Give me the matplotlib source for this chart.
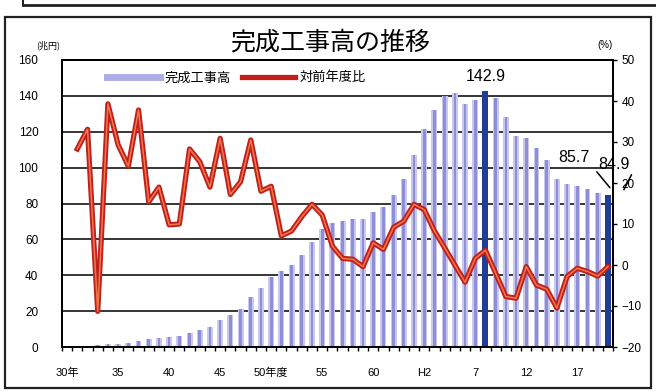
import numpy as np
import matplotlib
matplotlib.use("Agg")
import matplotlib.pyplot as plt
from matplotlib.lines import Line2D
from matplotlib.transforms import offset_copy

plt.rcParams['font.family'] = ['Liberation Sans', 'Noto Sans CJK JP', 'DejaVu Sans']

# ---- data (S30 .. H20, fiscal years) ----
tick_labels = ['30年', '35', '40', '45', '50年度', '55', '60', 'H2', '7', '12', '17']
tick_every = 5

completed = [0.6, 0.8, 0.7, 1.0, 1.4, 1.95, 2.5, 3.45, 4.3, 5.0,
             5.3, 5.9, 7.6, 9.5, 11.2, 15.2, 17.8, 21.1, 28.1, 33.1,
             39.1, 42.3, 45.8, 51.2, 58.8, 65.9, 69.4, 70.4, 71.3, 71.3,
             75.0, 77.8, 84.9, 93.7, 107.3, 121.8, 132.4, 139.9, 141.5, 135.7,
             137.6, 142.9, 138.6, 128.5, 117.5, 116.6, 111.0, 104.5, 93.7, 91.0,
             90.0, 88.1, 85.7, 84.9]

yoy_rate = [np.nan, 28.3, 33.1, -11.3, 39.3, 29.3, 24.1, 37.8, 15.4, 19.0,
            9.8, 10.0, 28.3, 25.2, 19.0, 30.9, 17.2, 20.3, 30.5, 18.0,
            19.2, 7.1, 8.3, 11.8, 14.8, 12.2, 4.6, 1.6, 1.4, -0.4,
            5.4, 3.8, 9.2, 10.7, 14.8, 13.5, 8.3, 4.2, 0.0, -4.2,
            1.6, 3.6, -2.0, -7.7, -8.1, -0.4, -4.9, -5.9, -10.5, -2.8,
            -0.8, -1.6, -2.7, -0.4]

highlight = [41, 53]          # highlighted bars
label_bars = [41, 52, 53]     # bars with value labels

n = len(completed)
x = np.arange(n)

fig = plt.figure(figsize=(6.56, 3.92), dpi=100)
fig.patch.set_facecolor('white')

# frame decorations
fig.add_artist(Line2D([23/656, 1.0], [1-5/392, 1-5/392], color='#222', lw=2.0))
fig.add_artist(Line2D([23/656, 23/656], [1.0, 1-5/392], color='#222', lw=1.5))
fig.add_artist(plt.Rectangle((5/656, 4/392), 646/656, 371/392, fill=False,
                             edgecolor='#222', lw=1.6))

ax = fig.add_axes([62/656, 1-347/392, 551/656, 287/392])
ax.set_xlim(-0.5, n - 0.5)
ax.set_ylim(0, 160)
ax.set_yticks(np.arange(0, 161, 20))
ax.grid(axis='y', color='black', lw=1.1)
ax.set_axisbelow(True)

light = ['#1f3c96' if i in highlight else '#c9c9ef' for i in range(n)]
mid = ['#1f3c96' if i in highlight else '#8e8ed8' for i in range(n)]
ax.bar(x, completed, width=0.58, color=light, zorder=2)
ax.bar(x, completed, width=0.26, color=mid, zorder=2.1)

ax.set_xticks(np.arange(-0.5, n, 1.0), minor=True)
ax.set_xticks(np.arange(0, n, tick_every))
ax.set_xticklabels(tick_labels)
ax.tick_params(axis='x', which='minor', length=3, width=1, direction='out')
ax.tick_params(axis='x', which='major', length=0, pad=15, labelsize=8)
ax.tick_params(axis='y', length=0, pad=17, labelsize=8.5)
for s in ax.spines.values():
    s.set_color('black')
    s.set_linewidth(1.3)

ax2 = ax.twinx()
ax2.set_ylim(-20, 50)
ax2.set_yticks(np.arange(-20, 51, 10))
ax2.tick_params(axis='y', length=3, width=1, pad=3, labelsize=8.5, direction='out')
ax2.plot(x, yoy_rate, color='#c41e1a', lw=3.8, solid_joinstyle='round', zorder=3)
ax2.plot(x, yoy_rate, color='#ec7a4e', lw=1.1, solid_joinstyle='round', zorder=3.1)
for s in ax2.spines.values():
    s.set_color('black')
    s.set_linewidth(1.3)

# value labels
offsets = {41: (0, 10), 52: (-17, 26), 53: (4, 22)}
for i in label_bars:
    dx, dy = offsets[i]
    ax.annotate(f'{completed[i]:.1f}', xy=(i, completed[i]), xytext=(dx, dy),
                textcoords='offset points', ha='center', va='center',
                fontsize=11.5, annotation_clip=False, zorder=5)

# leader lines
def leader(i, p0, p1):
    t0 = offset_copy(ax.transData, fig=fig, x=p0[0], y=p0[1], units='points')
    t1 = offset_copy(ax.transData, fig=fig, x=p1[0], y=p1[1], units='points')
    ax.annotate('', xy=(i, completed[i]), xycoords=t1, xytext=(i, completed[i]),
                textcoords=t0, annotation_clip=False,
                arrowprops=dict(arrowstyle='-', color='black', lw=1.1,
                                shrinkA=0, shrinkB=0))

leader(53, (-8, 16.5), (1.5, 5))
leader(53, (17, 14.4), (11.5, 3.6))

# legend
handles = [Line2D([], [], color='#aeaee6', lw=5),
           Line2D([], [], color='#c41e1a', lw=3.8)]
ax2.legend(handles, ['完成工事高', '対前年度比'], loc='center left',
           bbox_to_anchor=(0.072, 0.937), ncol=2, frameon=False,
           fontsize=9.5, handlelength=4.0, columnspacing=0.8,
           handletextpad=0.4, borderaxespad=0)

fig.text(330/656, 1-42/392, '完成工事高の推移', ha='center', va='center',
         fontsize=18, family=['Noto Sans CJK JP'])
fig.text(48/656, 1-45/392, '(兆円)', ha='center', va='center', fontsize=6.5,
         family=['Noto Sans CJK JP'])
fig.text(605/656, 1-45/392, '(%)', ha='center', va='center', fontsize=7)

fig.savefig('out.png', dpi=100)
